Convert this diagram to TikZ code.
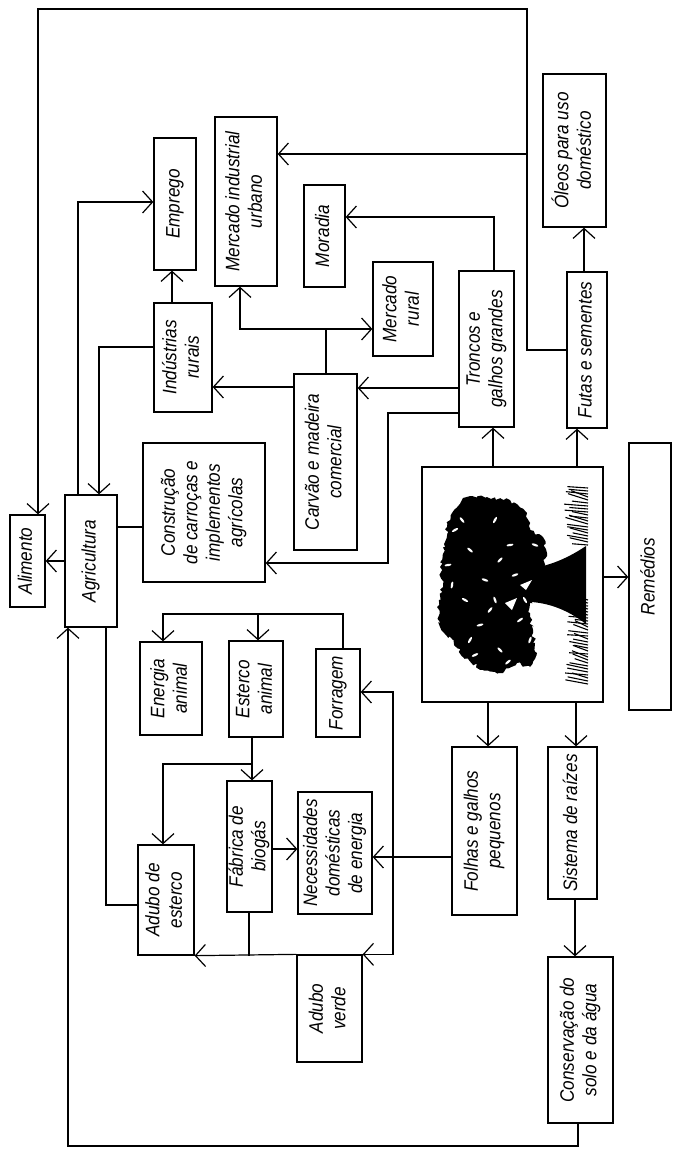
\documentclass[tikz,border=0pt]{standalone}
\usepackage{fontspec}
\setmainfont{Liberation Sans}[FakeStretch=0.88]
\usepackage{graphicx}
\usetikzlibrary{arrows.meta,calc,decorations.pathmorphing}
\newcommand\vtx[1]{\rotatebox{90}{\begin{tabular}{@{}c@{}}#1\end{tabular}}}
\tikzset{
  bx/.style={draw, line width=1.3pt, inner sep=0pt, fill=white, font=\fontsize{19.5}{22.5}\selectfont\itshape},
  sz/.style 2 args={minimum width=#1pt, minimum height=#2pt},
  ln/.style={line width=1.2pt, line join=miter},
  arr/.style={ln, -{Straight Barb[length=10pt,width=22pt]}},
  leafy/.style={decorate, decoration={random steps, segment length=3pt, amplitude=2pt}}
}
\begin{document}
\begin{tikzpicture}[x=1pt,y=-1pt]
\useasboundingbox (0,0) rectangle (675,1152);
% boxes
\node[bx, sz={35}{92}]   (alim)    at (27.5,561)  {\vtx{Alimento}};
\node[bx, sz={52}{132}]  (agri)    at (91,561)    {\vtx{Agricultura}};
\node[bx, sz={122}{139}] (constr)  at (204,512.5) {\vtx{Construção\\de carroças e\\implementos\\agrícolas}};
\node[bx, sz={58}{109}]  (indus)   at (183,357.5) {\vtx{Indústrias\\rurais}};
\node[bx, sz={42}{132}]  (empr)    at (175,204)   {\vtx{Emprego}};
\node[bx, sz={62}{169}]  (merind)  at (246,201.5) {\vtx{Mercado industrial\\urbano}};
\node[bx, sz={41}{102}]  (morad)   at (324.5,236) {\vtx{Moradia}};
\node[bx, sz={60}{94}]   (merrur)  at (403,309)   {\vtx{Mercado\\rural}};
\node[bx, sz={63}{176}]  (carvao)  at (325.5,462) {\vtx{Carvão e madeira\\comercial}};
\node[bx, sz={55}{156}]  (troncos) at (486.5,349) {\vtx{Troncos e\\galhos grandes}};
\node[bx, sz={40}{156}]  (frutas)  at (587,350)   {\vtx{Futas e sementes}};
\node[bx, sz={63}{153}]  (oleos)   at (574.5,150.5) {\vtx{Óleos para uso\\doméstico}};
\node[bx, sz={181}{235}] (tree)    at (512.5,584.5) {};
\node[bx, sz={42}{267}]  (remed)   at (650,576.5) {\vtx{Remédios}};
\node[bx, sz={62}{93}]   (energia) at (171,688.5) {\vtx{Energia\\animal}};
\node[bx, sz={54}{96}]   (esterco) at (256,689)   {\vtx{Esterco\\animal}};
\node[bx, sz={44}{88}]   (forr)    at (338,693)   {\vtx{Forragem}};
\node[bx, sz={56}{110}]  (adubest) at (166,900)   {\vtx{Adubo de\\esterco}};
\node[bx, sz={43}{131}]  (fabr)    at (249.5,846.5) {\vtx{Fábrica de\\biogás}};
\node[bx, sz={74}{122}]  (neces)   at (335,853)   {\vtx{Necessidades\\domésticas\\de energia}};
\node[bx, sz={65}{107}]  (adubver) at (329.5,1008.5) {\vtx{Adubo\\verde}};
\node[bx, sz={65}{168}]  (folhas)  at (484.5,831) {\vtx{Folhas e galhos\\pequenos}};
\node[bx, sz={49}{152}]  (sist)    at (572.5,823) {\vtx{Sistema de raízes}};
\node[bx, sz={65}{166}]  (cons)    at (580.5,1040) {\vtx{Conservação do\\solo e da água}};

% tree picture
\begin{scope}
\pgfmathsetseed{11}
\fill[black, leafy] (452,513) -- (463,498) -- (487,497) -- (510,500) -- (527,513) -- (530,530)
  -- (543,537) -- (547,553) -- (543,567) -- (533,593) -- (530,613) -- (533,633) -- (537,653)
  -- (530,667) -- (517,663) -- (503,673) -- (483,670) -- (463,657) -- (453,640) -- (440,627)
  -- (437,607) -- (443,587) -- (440,567) -- (445,547) -- (447,527) -- cycle;
\fill[black] (518,570) .. controls (545,568) and (565,560) .. (586,546) -- (586,624) .. controls (568,610) and (545,600) .. (518,602) -- cycle;
\foreach \x/\y/\a in {455/530/30,470/550/-40,495/520/60,500/560/45,465/600/-30,490/610/50,515/575/20,470/640/60,500/650/-45,520/620/35,452/585/80,485/580/-20,510/545/10,530/640/70,475/655/25,525/600/-60,448/565/10,462/520/-50,508/662/40,535/545/-20,480/625/15,495/600/-70}
  \fill[white, rotate around={\a:(\x,\y)}] (\x,\y) ellipse (3.5 and 1.2);
\fill[white] (520,585) -- (532,580) -- (526,590) -- cycle;
\fill[white] (505,603) -- (517,598) -- (512,610) -- cycle;
\foreach \y in {488,491,...,545} \draw[line width=1.1pt] (588,\y) -- ({569+5*rand},{\y-4-3*rand});
\foreach \y in {600,603,...,684} \draw[line width=1.1pt] (588,\y) -- ({570+5*rand},{\y-4-3*rand});
\end{scope}

% connectors
\coordinate (tr) at (527,9);
\coordinate (tl) at (38,9);
\coordinate (j1) at (527,154);
\draw[arr] (frutas.west) -- (527,350) -- (tr) -- (tl) -- (tl |- alim.north);
\draw[arr] (j1) -- (merind.east |- j1);
\draw[arr] (agri.west) -- (alim.east);
\draw[ln] (agri.east |- 0,527) -- (constr.west |- 0,527);
\draw[arr] (agri.north -| 78,0) -- (78,202) -- (empr.west |- 0,202);
\draw[arr] (indus.west |- 0,347) -- (99,347) -- (99,0 |- agri.north);
\draw[arr] (indus.north -| 172,0) -- (empr.south -| 172,0);
\draw[arr] (carvao.west |- 0,387) -- (indus.east |- 0,387);
\coordinate (j2) at (326,329);
\draw[arr] (carvao.north -| j2) -- (j2) -- (240,329) -- (240,0 |- merind.south);
\draw[arr] (j2) -- (merrur.west |- j2);
\draw[arr] (troncos.north -| 494,0) -- (494,217) -- (morad.east |- 0,217);
\draw[arr] (troncos.west |- 0,388) -- (carvao.east |- 0,388);
\draw[arr] (troncos.west |- 0,413) -- (388,413) -- (388,563) -- (constr.east |- 0,563);
\draw[arr] (tree.north -| 493,0) -- (troncos.south -| 493,0);
\draw[arr] (tree.north -| 577,0) -- (frutas.south -| 577,0);
\draw[arr] (frutas.north -| 584,0) -- (oleos.south -| 584,0);
\draw[arr] (tree.east |- 0,577) -- (remed.west |- 0,577);
\draw[arr] (tree.south -| 488,0) -- (folhas.north -| 488,0);
\draw[arr] (tree.south -| 576,0) -- (sist.north -| 576,0);
\draw[arr] (sist.south -| 575,0) -- (cons.north -| 575,0);
\draw[arr] (cons.south -| 578,0) -- (578,1146) -- (68,1146) -- (68,0 |- agri.south);
\draw[ln] (adubest.west |- 0,905) -- (106,905) -- (106,0 |- agri.south);
\draw[arr] (folhas.west |- 0,857) -- (neces.east |- 0,857);
\coordinate (j3) at (393,857);
\draw[arr] (j3) -- (393,692) -- (forr.east |- 0,692);
\draw[arr] (j3) -- (393,0 |- adubver.north) -- (adubver.north east);
\draw[arr] (adubver.north west) -- (adubest.south east);
\draw[ln] (fabr.south -| 249,0) -- (249,0 |- adubest.south);
\draw[arr] (fabr.east |- 0,849) -- (neces.west |- 0,849);
\coordinate (j4) at (252,764);
\draw[arr] (esterco.south -| j4) -- (fabr.north -| j4);
\draw[arr] (j4) -- (163,764) -- (163,0 |- adubest.north);
\coordinate (j5) at (343,614);
\draw[arr] (forr.north -| j5) -- (j5) -- (163,614) -- (163,0 |- energia.north);
\draw[arr] (258,614) -- (258,0 |- esterco.north);
\end{tikzpicture}
\end{document}
